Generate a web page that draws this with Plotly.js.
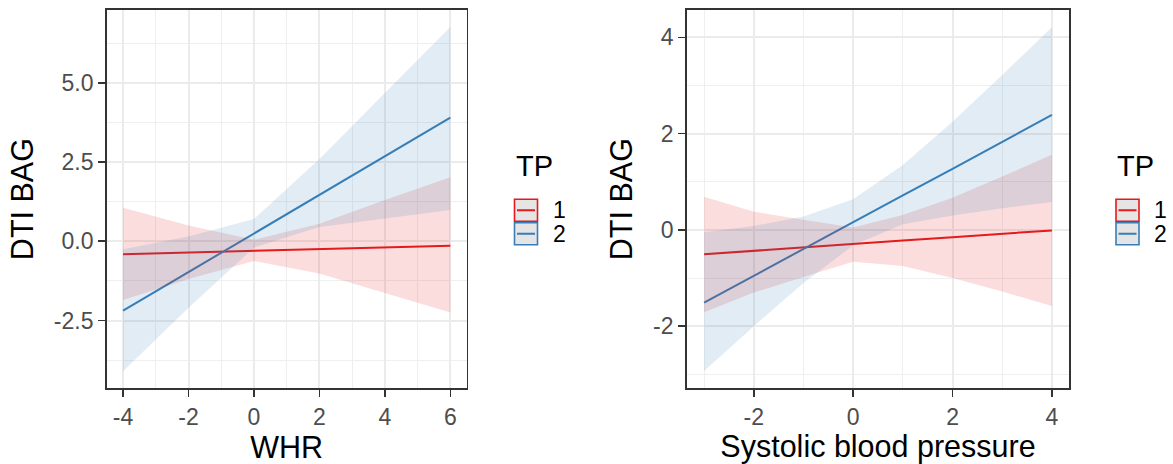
<!DOCTYPE html>
<html>
<head>
<meta charset="utf-8">
<script src="https://cdn.plot.ly/plotly-3.0.1.min.js"></script>
<style>html,body{margin:0;padding:0;background:#fff;}#chart{width:1173px;height:464px;}</style>
</head>
<body>
<div id="chart"></div>
<script>
// ---- Data: left panel (WHR) ----
const whrX = [-4, -2, 0, 2, 4, 6];
const whrTP1 = [-0.41, -0.36, -0.30, -0.25, -0.19, -0.14];
const whrTP1Low = [-1.85, -1.19, -0.62, -1.02, -1.63, -2.25];
const whrTP1High = [1.06, 0.50, 0.05, 0.55, 1.30, 2.02];
const whrTP2 = [-2.19, -0.97, 0.25, 1.47, 2.68, 3.90];
const whrTP2Low = [-4.10, -2.10, -0.20, 0.45, 0.72, 0.99];
const whrTP2High = [-0.25, 0.15, 0.70, 2.60, 4.68, 6.76];

// ---- Data: right panel (Systolic blood pressure) ----
const sbpX = [-3, -2, -1, 0, 1, 2, 3, 4];
const sbpTP1 = [-0.505, -0.43, -0.36, -0.29, -0.22, -0.15, -0.08, -0.01];
const sbpTP1Low = [-1.71, -1.30, -0.98, -0.66, -0.75, -1.00, -1.28, -1.58];
const sbpTP1High = [0.69, 0.38, 0.21, 0.05, 0.31, 0.67, 1.11, 1.56];
const sbpTP2 = [-1.51, -0.95, -0.40, 0.16, 0.72, 1.27, 1.83, 2.39];
const sbpTP2Low = [-2.93, -2.00, -1.10, -0.32, 0.12, 0.30, 0.45, 0.58];
const sbpTP2High = [-0.05, 0.08, 0.28, 0.64, 1.35, 2.25, 3.22, 4.21];

// ---- Ticks / labels ----
const whrXTicks = [-4, -2, 0, 2, 4, 6];
const whrXTickText = ['-4', '-2', '0', '2', '4', '6'];
const whrYTicks = [-2.5, 0, 2.5, 5];
const whrYTickText = ['-2.5', '0.0', '2.5', '5.0'];
const sbpXTicks = [-2, 0, 2, 4];
const sbpXTickText = ['-2', '0', '2', '4'];
const sbpYTicks = [-2, 0, 2, 4];
const sbpYTickText = ['-2', '0', '2', '4'];
const groups = ['1', '2'];
const legendTitle = 'TP';

const RED = '#E41A1C', BLUE = '#377EB8';
const RED_FILL = 'rgba(228,26,28,0.15)', BLUE_FILL = 'rgba(55,126,184,0.15)';
const FONT = 'Liberation Sans, Arial, Helvetica, sans-serif';
const TICK_SIZE = 23, TITLE_SIZE = 30.5;

function panel(x, l1, lo1, hi1, l2, lo2, hi2, xa, ya) {
  return [
    {x: x, y: l1, xaxis: xa, yaxis: ya, mode: 'lines', line: {color: RED, width: 2}, showlegend: false, hoverinfo: 'skip'},
    {x: x, y: l2, xaxis: xa, yaxis: ya, mode: 'lines', line: {color: BLUE, width: 2}, showlegend: false, hoverinfo: 'skip'},
    {x: x, y: lo1, xaxis: xa, yaxis: ya, mode: 'lines', line: {width: 0, color: RED_FILL}, showlegend: false, hoverinfo: 'skip'},
    {x: x, y: hi1, xaxis: xa, yaxis: ya, mode: 'lines', line: {width: 0, color: RED_FILL}, fill: 'tonexty', fillcolor: RED_FILL, showlegend: false, hoverinfo: 'skip'},
    {x: x, y: lo2, xaxis: xa, yaxis: ya, mode: 'lines', line: {width: 0, color: BLUE_FILL}, showlegend: false, hoverinfo: 'skip'},
    {x: x, y: hi2, xaxis: xa, yaxis: ya, mode: 'lines', line: {width: 0, color: BLUE_FILL}, fill: 'tonexty', fillcolor: BLUE_FILL, showlegend: false, hoverinfo: 'skip'}
  ];
}

const data = [].concat(
  panel(whrX, whrTP1, whrTP1Low, whrTP1High, whrTP2, whrTP2Low, whrTP2High, 'x', 'y'),
  panel(sbpX, sbpTP1, sbpTP1Low, sbpTP1High, sbpTP2, sbpTP2Low, sbpTP2High, 'x2', 'y2')
);

const W = 1173, H = 464;
const px = v => v / W;
const py = v => 1 - v / H;

function axisBase(extra) {
  return Object.assign({
    ticks: 'outside', ticklen: 7, tickwidth: 1.6, tickcolor: '#333333',
    showline: true, mirror: true, linecolor: '#333333', linewidth: 1.6,
    showgrid: true, gridcolor: '#EBEBEB', gridwidth: 2,
    zeroline: false, tickmode: 'array', fixedrange: true,
    tickfont: {family: FONT, size: TICK_SIZE, color: '#4D4D4D'}
  }, extra);
}
function minor(vals) {
  return {tickmode: 'array', tickvals: vals, showgrid: true, gridcolor: '#EFEFEF', gridwidth: 1.1, ticks: ''};
}
function ttl(t, s) {
  return {text: t, font: {family: FONT, size: TITLE_SIZE, color: '#000'}, standoff: s};
}

const layout = {
  width: W, height: H,
  margin: {l: 0, r: 0, t: 0, b: 0},
  paper_bgcolor: '#ffffff', plot_bgcolor: '#ffffff',
  showlegend: false,
  font: {family: FONT},
  xaxis: axisBase({domain: [px(106.7), px(466.7)], range: [-4.5, 6.5], tickvals: whrXTicks, ticktext: whrXTickText,
    minor: minor([-3, -1, 1, 3, 5]), anchor: 'y', title: ttl('WHR', 8)}),
  yaxis: axisBase({domain: [py(388.3), py(10)], range: [-4.64, 7.30], tickvals: whrYTicks, ticktext: whrYTickText,
    minor: minor([-3.75, -1.25, 1.25, 3.75, 6.25]), anchor: 'x', title: ttl('DTI BAG', 11)}),
  xaxis2: axisBase({domain: [px(686.7), px(1069.3)], range: [-3.35, 4.35], tickvals: sbpXTicks, ticktext: sbpXTickText,
    minor: minor([-3, -1, 1, 3]), anchor: 'y2', title: ttl('Systolic blood pressure', 8)}),
  yaxis2: axisBase({domain: [py(388.3), py(10)], range: [-3.29, 4.57], tickvals: sbpYTicks, ticktext: sbpYTickText,
    minor: minor([-3, -1, 1, 3]), anchor: 'x2', title: ttl('DTI BAG', 11)}),
  shapes: [],
  annotations: []
};

// Manual legends (ggplot-style keys)
function addLegend(left) {
  const keyW = 23, keyH = 23.5, top = 198.5;
  const cols = [RED, BLUE];
  layout.annotations.push({xref: 'paper', yref: 'paper', x: px(left - 1), y: py(166), xanchor: 'left', yanchor: 'middle',
    text: legendTitle, showarrow: false, font: {family: FONT, size: 29, color: '#000'}});
  for (let i = 0; i < groups.length; i++) {
    const y0 = top + i * keyH, y1 = y0 + keyH;
    layout.shapes.push({type: 'rect', xref: 'paper', yref: 'paper', x0: px(left), x1: px(left + keyW), y0: py(y1 - 0.8), y1: py(y0 + 0.8),
      fillcolor: '#E5E5E5', line: {color: cols[i], width: 1.6}});
    layout.shapes.push({type: 'line', xref: 'paper', yref: 'paper', x0: px(left + 2.5), x1: px(left + keyW - 2.5), y0: py((y0 + y1) / 2), y1: py((y0 + y1) / 2),
      line: {color: cols[i], width: 2}});
    layout.annotations.push({xref: 'paper', yref: 'paper', x: px(left + 36), y: py((y0 + y1) / 2), xanchor: 'left', yanchor: 'middle',
      text: groups[i], showarrow: false, font: {family: FONT, size: 23, color: '#000'}});
  }
}
addLegend(514.5);
addLegend(1116);

Plotly.newPlot('chart', data, layout, {displayModeBar: false, staticPlot: true});
</script>
</body>
</html>
